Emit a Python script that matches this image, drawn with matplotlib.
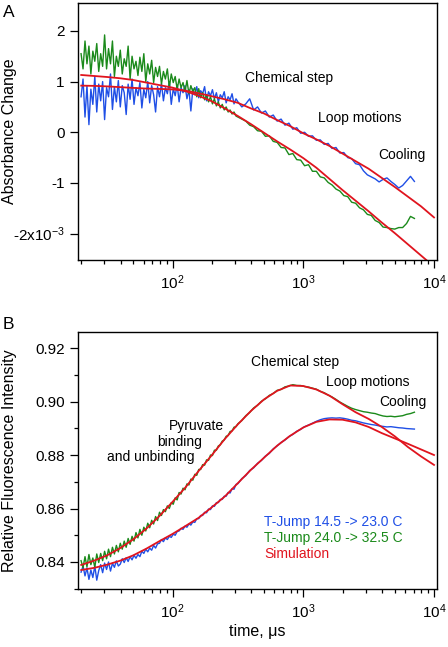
"""T-jump absorbance (A) and fluorescence (B) transients with simulation fits."""

import matplotlib

matplotlib.use("Agg")
import matplotlib.pyplot as plt
from matplotlib.ticker import FixedLocator, LogLocator, NullFormatter, MultipleLocator

plt.rcParams["font.family"] = ["Liberation Sans", "DejaVu Sans"]
plt.rcParams["mathtext.fontset"] = "custom"
plt.rcParams["mathtext.rm"] = "Liberation Sans"
plt.rcParams["mathtext.default"] = "regular"

BLUE = "#1f4fe6"
GREEN = "#1b8a1b"
RED = "#e0141e"

# measured traces share one time base (µs); finer sampling at early times
t_data = [
    19.95, 20.65, 21.38, 22.13, 22.91, 23.71, 24.55, 25.41, 26.30, 27.23,
    28.18, 29.17, 30.20, 31.26, 32.36, 33.50, 34.67, 35.89, 37.15, 38.46,
    39.81, 41.21, 42.66, 44.16, 45.71, 47.32, 48.98, 50.70, 52.48, 54.33,
    56.23, 58.21, 60.26, 62.37, 64.57, 66.83, 69.18, 71.61, 74.13, 76.74,
    79.43, 82.22, 85.11, 88.10, 91.20, 94.41, 97.72, 101.2, 104.7, 108.4,
    112.2, 116.1, 120.2, 124.5, 128.8, 133.4, 138.0, 142.9, 147.9, 153.1,
    158.5, 164.1, 169.8, 175.8, 182.0, 188.4, 195.0, 201.8, 208.9, 216.3,
    223.9, 231.7, 239.9, 248.3, 257.0, 266.1, 275.4, 285.1, 295.1, 305.5,
    316.2, 338.8, 363.1, 389.0, 416.9, 446.7, 478.6, 512.9, 549.5, 588.8,
    631.0, 676.1, 724.4, 776.2, 831.8, 891.3, 955.0, 1023, 1096, 1175,
    1259, 1349, 1445, 1549, 1660, 1778, 1905, 2042, 2188, 2344,
    2512, 2692, 2884, 3090, 3311, 3548, 3802, 4074, 4365, 4677,
    5012, 5370, 5754, 6166, 6607, 7079,
]

# panel A, absorbance change in units of 1e-3
abs_blue = [
    0.70, 1.05, 0.30, 0.92, 0.15, 0.85, 0.55, 1.10, 0.40, 0.95,
    0.62, 1.00, 0.25, 0.88, 0.70, 1.15, 0.45, 0.90, 0.60, 1.02,
    0.50, 0.92, 0.78, 0.35, 0.95, 0.65, 1.05, 0.55, 0.88, 0.72,
    0.98, 0.48, 0.85, 0.68, 1.00, 0.58, 0.92, 0.74, 0.40, 0.90,
    0.70, 0.96, 0.62, 0.88, 0.76, 1.00, 0.55, 0.86, 0.72, 0.94,
    0.60, 0.88, 0.78, 0.92, 0.66, 0.84, 0.42, 0.86, 0.74, 0.90,
    0.68, 0.82, 0.76, 0.90, 0.62, 0.80, 0.72, 0.84, 0.66, 0.78,
    0.60, 0.74, 0.68, 0.80, 0.58, 0.70, 0.64, 0.76, 0.56, 0.66,
    0.60, 0.50, 0.56, 0.66, 0.44, 0.50, 0.38, 0.42, 0.30, 0.34,
    0.22, 0.26, 0.14, 0.18, 0.06, 0.09, -0.02, 0.00, -0.08, -0.07,
    -0.16, -0.15, -0.24, -0.22, -0.32, -0.30, -0.41, -0.40, -0.50, -0.52,
    -0.62, -0.64, -0.76, -0.84, -0.88, -0.92, -0.98, -0.93, -0.90, -0.97,
    -1.03, -1.10, -1.05, -0.96, -0.87, -0.97,
]
abs_green = [
    1.55, 1.25, 1.80, 1.35, 1.70, 1.15, 1.60, 1.40, 1.75, 1.20,
    1.55, 1.30, 1.92, 1.25, 1.65, 1.35, 1.80, 1.10, 1.50, 1.30,
    1.62, 1.15, 1.45, 1.30, 1.70, 1.05, 1.50, 1.25, 1.40, 1.12,
    1.48, 1.20, 1.55, 1.00, 1.35, 1.15, 1.42, 0.98, 1.28, 1.10,
    1.30, 0.95, 1.20, 1.05, 1.25, 0.88, 1.15, 0.98, 1.10, 0.85,
    1.05, 0.88, 0.98, 0.80, 1.02, 0.76, 0.92, 0.80, 0.88, 0.70,
    0.86, 0.68, 0.78, 0.64, 0.74, 0.60, 0.70, 0.56, 0.66, 0.52,
    0.60, 0.48, 0.55, 0.44, 0.50, 0.40, 0.44, 0.36, 0.40, 0.32,
    0.30, 0.26, 0.22, 0.14, 0.11, 0.03, 0.02, -0.08, -0.07, -0.18,
    -0.20, -0.30, -0.31, -0.44, -0.42, -0.54, -0.55, -0.66, -0.64, -0.77,
    -0.77, -0.88, -0.90, -0.99, -1.04, -1.12, -1.16, -1.25, -1.27, -1.38,
    -1.40, -1.49, -1.53, -1.62, -1.64, -1.74, -1.78, -1.87, -1.88, -1.90,
    -1.91, -1.88, -1.88, -1.80, -1.66, -1.70,
]

# panel B, relative fluorescence intensity
fl_blue = [
    0.8362, 0.8385, 0.8348, 0.8378, 0.8335, 0.8370, 0.8342, 0.8385, 0.8332, 0.8368,
    0.8390, 0.8360, 0.8396, 0.8372, 0.8400, 0.8366, 0.8395, 0.8380, 0.8404, 0.8385,
    0.8392, 0.8412, 0.8398, 0.8416, 0.8402, 0.8420, 0.8408, 0.8425, 0.8414, 0.8428,
    0.8420, 0.8440, 0.8432, 0.8448, 0.8438, 0.8452, 0.8444, 0.8462, 0.8452, 0.8468,
    0.8470, 0.8484, 0.8476, 0.8490, 0.8484, 0.8496, 0.8492, 0.8504, 0.8500, 0.8514,
    0.8516, 0.8526, 0.8522, 0.8534, 0.8530, 0.8542, 0.8538, 0.8550, 0.8548, 0.8562,
    0.8562, 0.8574, 0.8574, 0.8586, 0.8584, 0.8598, 0.8596, 0.8610, 0.8608, 0.8622,
    0.8622, 0.8634, 0.8634, 0.8646, 0.8646, 0.8660, 0.8658, 0.8674, 0.8672, 0.8690,
    0.8693, 0.8712, 0.8723, 0.8742, 0.8752, 0.8769, 0.8780, 0.8796, 0.8806, 0.8823,
    0.8834, 0.8847, 0.8856, 0.8869, 0.8877, 0.8889, 0.8896, 0.8906, 0.8912, 0.8919,
    0.8926, 0.8932, 0.8936, 0.8938, 0.8939, 0.8938, 0.8939, 0.8937, 0.8934, 0.8930,
    0.8928, 0.8924, 0.8920, 0.8917, 0.8914, 0.8912, 0.8909, 0.8907, 0.8905, 0.8906,
    0.8904, 0.8902, 0.8901, 0.8899, 0.8898, 0.8897,
]
fl_green = [
    0.8405, 0.8378, 0.8420, 0.8382, 0.8428, 0.8390, 0.8415, 0.8380, 0.8430, 0.8398,
    0.8432, 0.8405, 0.8440, 0.8412, 0.8448, 0.8420, 0.8455, 0.8430, 0.8462, 0.8438,
    0.8470, 0.8448, 0.8478, 0.8455, 0.8488, 0.8466, 0.8496, 0.8478, 0.8510, 0.8490,
    0.8522, 0.8500, 0.8530, 0.8516, 0.8545, 0.8528, 0.8556, 0.8542, 0.8570, 0.8555,
    0.8586, 0.8574, 0.8596, 0.8588, 0.8610, 0.8600, 0.8622, 0.8616, 0.8640, 0.8632,
    0.8660, 0.8654, 0.8676, 0.8670, 0.8692, 0.8688, 0.8710, 0.8706, 0.8728, 0.8724,
    0.8746, 0.8746, 0.8764, 0.8762, 0.8782, 0.8780, 0.8800, 0.8798, 0.8818, 0.8818,
    0.8834, 0.8838, 0.8852, 0.8856, 0.8870, 0.8873, 0.8888, 0.8890, 0.8904, 0.8906,
    0.8917, 0.8929, 0.8947, 0.8959, 0.8976, 0.8986, 0.9001, 0.9010, 0.9023, 0.9030,
    0.9042, 0.9045, 0.9055, 0.9058, 0.9063, 0.9060, 0.9060, 0.9056, 0.9054, 0.9050,
    0.9046, 0.9038, 0.9033, 0.9024, 0.9017, 0.9008, 0.8998, 0.8990, 0.8982, 0.8975,
    0.8970, 0.8966, 0.8962, 0.8960, 0.8957, 0.8955, 0.8950, 0.8946, 0.8944, 0.8945,
    0.8943, 0.8945, 0.8947, 0.8952, 0.8955, 0.8960,
]

# simulation curves
t_sim = [
    20, 25.1, 31.6, 39.8, 50.1, 63.1, 79.4, 100, 126, 158,
    200, 251, 316, 398, 501, 631, 794, 1000, 1259, 1585,
    1995, 2512, 3162, 3981, 5012, 6310, 7943, 10000,
]
sim_abs_blue = [
    0.92, 0.915, 0.905, 0.89, 0.875, 0.862, 0.855, 0.845, 0.82, 0.77,
    0.71, 0.65, 0.58, 0.47, 0.37, 0.24, 0.12, -0.02, -0.14, -0.27,
    -0.42, -0.57, -0.72, -0.90, -1.08, -1.27, -1.46, -1.68,
]
sim_abs_green = [
    1.13, 1.11, 1.09, 1.065, 1.03, 0.98, 0.93, 0.88, 0.81, 0.72,
    0.61, 0.47, 0.32, 0.16, -0.01, -0.18, -0.34, -0.51, -0.70, -0.92,
    -1.14, -1.35, -1.56, -1.78, -1.99, -2.21, -2.43, -2.65,
]
sim_fl_blue = [
    0.8370, 0.8378, 0.8390, 0.8405, 0.8425, 0.8450, 0.8478, 0.8505, 0.8535, 0.8565,
    0.8605, 0.8645, 0.8695, 0.8745, 0.8790, 0.8835, 0.8872, 0.8903, 0.8924, 0.8933,
    0.8932, 0.8922, 0.8905, 0.8882, 0.8862, 0.8842, 0.8821, 0.8800,
]
sim_fl_green = [
    0.8389, 0.8405, 0.8425, 0.8452, 0.8485, 0.8525, 0.8572, 0.8625, 0.8680, 0.8740,
    0.8800, 0.8860, 0.8915, 0.8965, 0.9008, 0.9040, 0.9060, 0.9058, 0.9045, 0.9022,
    0.8990, 0.8960, 0.8935, 0.8905, 0.8870, 0.8830, 0.8795, 0.8763,
]

legend_labels = ["T-Jump 14.5 -> 23.0 C", "T-Jump 24.0 -> 32.5 C", "Simulation"]


def _style_axes(ax):
    ax.set_xscale("log")
    ax.set_xlim(18.9, 10540)
    ax.xaxis.set_major_locator(FixedLocator([1e2, 1e3, 1e4]))
    ax.xaxis.set_minor_locator(LogLocator(base=10, subs=range(2, 10), numticks=20))
    ax.xaxis.set_minor_formatter(NullFormatter())
    ax.set_xticklabels(["$10^{2}$", "$10^{3}$", "$10^{4}$"])
    ax.tick_params(which="major", direction="out", length=5.5, width=0.9, labelsize=11, pad=4)
    ax.tick_params(which="minor", direction="out", length=2.8, width=0.9)
    for spine in ax.spines.values():
        spine.set_linewidth(1.0)


fig = plt.figure(figsize=(4.48, 6.47), dpi=100)
ax_a = fig.add_axes([78 / 448, 1 - 260 / 647, 359 / 448, 257 / 647])
ax_b = fig.add_axes([78 / 448, 1 - 589 / 647, 359 / 448, 257 / 647])

# --- panel A
ax_a.plot(t_data, abs_blue, color=BLUE, lw=1.0)
ax_a.plot(t_data, abs_green, color=GREEN, lw=1.0)
ax_a.plot(t_sim, sim_abs_blue, color=RED, lw=1.3)
ax_a.plot(t_sim, sim_abs_green, color=RED, lw=1.3)
_style_axes(ax_a)
ax_a.set_ylim(-2.52, 2.55)
ax_a.set_yticks([2, 1, 0, -1, -2], ["2", "1", "0", "-1", "-2x10$^{-3}$"])
ax_a.set_ylabel("Absorbance Change", fontsize=11.5)
ax_a.yaxis.set_label_coords(-0.17, 0.5)
ax_a.text(361, 1.065, "Chemical step", fontsize=10, va="center")
ax_a.text(1303, 0.276, "Loop motions", fontsize=10, va="center")
ax_a.text(3740, -0.454, "Cooling", fontsize=10, va="center")

# --- panel B
ax_b.plot(t_data, fl_blue, color=BLUE, lw=1.0)
ax_b.plot(t_data, fl_green, color=GREEN, lw=1.0)
ax_b.plot(t_sim, sim_fl_blue, color=RED, lw=1.3)
ax_b.plot(t_sim, sim_fl_green, color=RED, lw=1.3)
_style_axes(ax_b)
ax_b.set_ylim(0.8299, 0.926)
ax_b.set_yticks([0.84, 0.86, 0.88, 0.90, 0.92], ["0.84", "0.86", "0.88", "0.90", "0.92"])
ax_b.yaxis.set_minor_locator(MultipleLocator(0.01))
ax_b.set_ylabel("Relative Fluorescence Intensity", fontsize=11.5)
ax_b.yaxis.set_label_coords(-0.17, 0.5)
ax_b.set_xlabel("time, \u03bcs", fontsize=11.5, labelpad=2)
ax_b.text(401, 0.9148, "Chemical step", fontsize=10, va="center")
ax_b.text(1500, 0.9073, "Loop motions", fontsize=10, va="center")
ax_b.text(3800, 0.8998, "Cooling", fontsize=10, va="center")
ax_b.text(93, 0.8908, "Pyruvate", fontsize=10, va="center")
ax_b.text(76.8, 0.8849, "binding", fontsize=10, va="center")
ax_b.text(31.3, 0.8793, "and unbinding", fontsize=10, va="center")
for label, color, y in zip(legend_labels, [BLUE, GREEN, RED], [0.855, 0.849, 0.843]):
    ax_b.text(503, y, label, color=color, fontsize=10, va="center")

fig.text(3 / 448, 1 - 17 / 647, "A", fontsize=12.5)
fig.text(3 / 448, 1 - 329 / 647, "B", fontsize=12.5)

fig.savefig("out.png", dpi=100)
